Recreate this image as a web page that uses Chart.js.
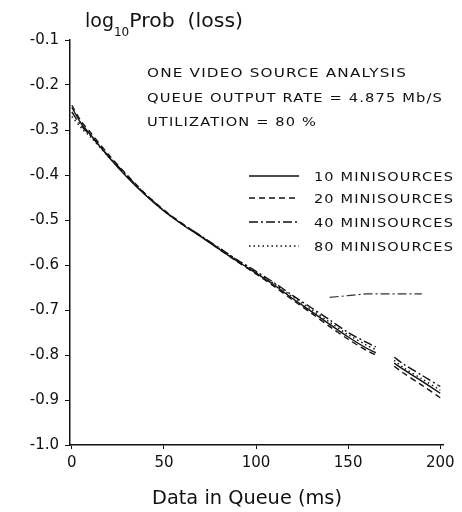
<!DOCTYPE html>
<html>
<head>
<meta charset="utf-8">
<script src="https://cdn.jsdelivr.net/npm/chart.js@4"></script>
<style>
  body { margin: 0; background: #fff; }
  #wrap { width: 462px; height: 512px; }
</style>
</head>
<body>
<div id="wrap"><canvas id="lossChart" width="462" height="512"></canvas></div>
<script>
// queue occupancy (ms) where the curves were read
const queueMs = [0, 5, 10, 20, 30, 40, 50, 60, 70, 80, 90, 100, 110, 120, 130, 140, 150, 160, 165, 170, 175, 180, 190, 200];

// log10 Prob(loss) per number of minisources (null = gap in the scan)
const mini10 = [-0.25, -0.285, -0.31, -0.36, -0.405, -0.445, -0.48, -0.51, -0.537, -0.565, -0.592, -0.618, -0.645, -0.675, -0.703, -0.732, -0.76, -0.785, -0.795, null, -0.818, -0.832, -0.858, -0.885];
const mini20 = [-0.245, -0.28, -0.305, -0.355, -0.4, -0.442, -0.478, -0.508, -0.536, -0.565, -0.593, -0.62, -0.648, -0.678, -0.707, -0.737, -0.765, -0.79, -0.8, null, -0.825, -0.84, -0.867, -0.895];
const mini40 = [-0.26, -0.29, -0.312, -0.358, -0.402, -0.443, -0.479, -0.509, -0.535, -0.562, -0.589, -0.614, -0.64, -0.668, -0.695, -0.722, -0.75, -0.772, -0.782, null, -0.805, -0.82, -0.845, -0.87];
const mini80 = [-0.27, -0.295, -0.315, -0.36, -0.403, -0.444, -0.48, -0.51, -0.536, -0.563, -0.59, -0.616, -0.642, -0.671, -0.699, -0.727, -0.755, -0.778, -0.788, null, -0.812, -0.828, -0.853, -0.878];

// stray dash-dot fragment near -0.67
const strayX = [140, 150, 160, 175, 190];
const strayY = [-0.672, -0.668, -0.664, -0.664, -0.664];

const xTicks = [0, 50, 100, 150, 200];
const yTicks = [-1.0, -0.9, -0.8, -0.7, -0.6, -0.5, -0.4, -0.3, -0.2, -0.1];
const yTickLabels = ['-1.0', '-0.9', '-0.8', '-0.7', '-0.6', '-0.5', '-0.4', '-0.3', '-0.2', '-0.1'];

const seriesNames = ['10 MINISOURCES', '20 MINISOURCES', '40 MINISOURCES', '80 MINISOURCES'];
const notes = ['ONE VIDEO SOURCE ANALYSIS', 'QUEUE OUTPUT RATE = 4.875 Mb/S', 'UTILIZATION = 80 %'];
const noteWidths = [260, 296, 170];

const FONT = '"DejaVu Sans", sans-serif';

function pts(xs, ys) {
    return xs.map(function (x, i) { return { x: x, y: ys[i] }; });
}

const styles = [
    { dash: [] },
    { dash: [6, 4] },
    { dash: [9, 3, 2, 3] },
    { dash: [1.5, 3] }
];

const datasets = [mini10, mini20, mini40, mini80].map(function (ys, i) {
    return {
        label: seriesNames[i],
        data: pts(queueMs, ys),
        borderColor: '#111',
        borderWidth: 1.4,
        borderDash: styles[i].dash,
        pointRadius: 0,
        tension: 0.3,
        spanGaps: false
    };
});
datasets.push({
    label: '',
    data: pts(strayX, strayY),
    borderColor: '#333',
    borderWidth: 1.2,
    borderDash: [9, 3, 2, 3],
    pointRadius: 0,
    tension: 0
});

// draw text stretched or squeezed horizontally to a given width
function fitText(ctx, text, x, y, width) {
    const w = ctx.measureText(text).width;
    ctx.save();
    ctx.translate(x, y);
    ctx.scale(width / w, 1);
    ctx.fillText(text, 0, 0);
    ctx.restore();
}

// titles, notes and legend drawn on top
const decor = {
    id: 'decor',
    afterDraw(chart) {
        const ctx = chart.ctx;
        ctx.save();
        ctx.fillStyle = '#111';
        ctx.textBaseline = 'alphabetic';

        // y title with subscript
        ctx.font = '19px ' + FONT;
        ctx.fillText('log', 85, 27);
        let w = ctx.measureText('log').width;
        ctx.font = '12px ' + FONT;
        ctx.fillText('10', 85 + w, 36);
        let w2 = ctx.measureText('10').width;
        ctx.font = '19px ' + FONT;
        fitText(ctx, 'Prob  (loss)', 85 + w + w2, 27, 243 - (85 + w + w2));

        // notes
        ctx.font = '13px ' + FONT;
        ctx.letterSpacing = '1px';
        notes.forEach(function (t, i) {
            fitText(ctx, t, 147, 77 + i * 24.5, noteWidths[i]);
        });

        // legend
        const ds = chart.data.datasets;
        const rows = [181, 203, 227, 251];
        for (let i = 0; i < 4; i++) {
            const y = rows[i];
            ctx.strokeStyle = '#111';
            ctx.lineWidth = 1.4;
            ctx.setLineDash(ds[i].borderDash);
            ctx.beginPath();
            ctx.moveTo(249, y - 5);
            ctx.lineTo(299, y - 5);
            ctx.stroke();
            ctx.setLineDash([]);
            fitText(ctx, ds[i].label, 314, y, 140);
        }
        ctx.letterSpacing = '0px';

        // x title
        ctx.font = '19px ' + FONT;
        fitText(ctx, 'Data in Queue (ms)', 152, 504, 190);
        ctx.restore();
    }
};

const ctx = document.getElementById('lossChart').getContext('2d');
new Chart(ctx, {
    type: 'line',
    data: { datasets: datasets },
    options: {
        responsive: false,
        animation: false,
        layout: { padding: { top: 40, right: 19, left: 0, bottom: 0 } },
        plugins: { legend: { display: false }, tooltip: { enabled: false } },
        scales: {
            x: {
                type: 'linear',
                min: -1,
                max: 201.5,
                afterBuildTicks(axis) { axis.ticks = xTicks.map(function (v) { return { value: v }; }); },
                afterFit(axis) { axis.height = 67; },
                border: { display: true, color: '#111', width: 1.5 },
                grid: { drawOnChartArea: false, drawTicks: true, tickLength: 4, color: '#111' },
                ticks: { color: '#111', font: { family: FONT, size: 15 }, padding: 5, maxRotation: 0 }
            },
            y: {
                min: -1.0,
                max: -0.1,
                afterBuildTicks(axis) { axis.ticks = yTicks.map(function (v) { return { value: v }; }); },
                afterFit(axis) { axis.width = 70; },
                border: { display: true, color: '#111', width: 1.5 },
                grid: { drawOnChartArea: false, drawTicks: true, tickLength: 5, color: '#111' },
                ticks: {
                    color: '#111',
                    font: { family: FONT, size: 15 },
                    padding: 6,
                    callback: function (v) {
                        const i = yTicks.findIndex(function (t) { return Math.abs(t - v) < 1e-6; });
                        return i >= 0 ? yTickLabels[i] : '';
                    }
                }
            }
        }
    },
    plugins: [decor]
});
</script>
</body>
</html>
